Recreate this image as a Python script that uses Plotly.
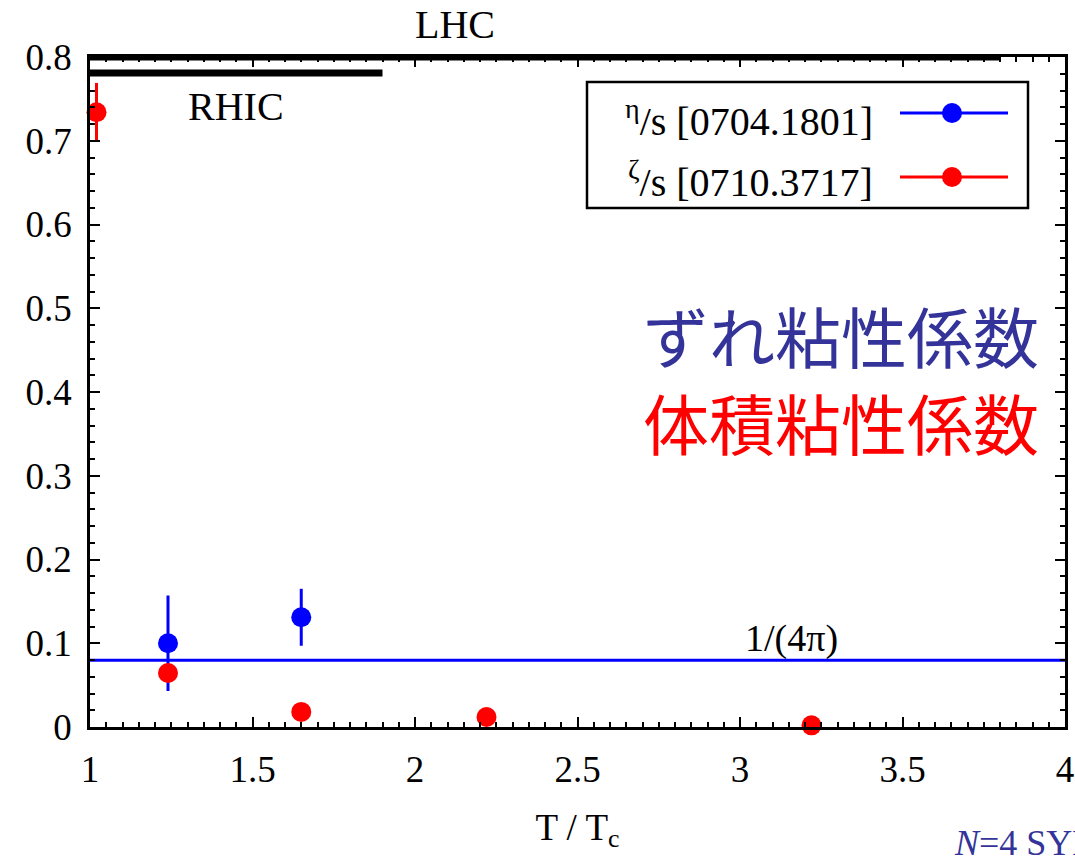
import plotly.graph_objects as go
import math

# --- data ---
eta_x = [1.24, 1.65]
eta_y = [0.100, 0.131]
eta_err = [0.057, 0.034]

zeta_x = [1.02, 1.24, 1.65, 2.22, 3.22]
zeta_y = [0.734, 0.0645, 0.018, 0.012, 0.002]
zeta_err = [0.035, 0.0, 0.0, 0.0, 0.0]

kss_value = 1 / (4 * math.pi)
lhc_range = [1.0, 3.80]
lhc_y = 0.8
rhic_range = [1.0, 1.90]
rhic_y = 0.781

x_ticks = [1, 1.5, 2, 2.5, 3, 3.5, 4]
x_ticklabels = ["1", "1.5", "2", "2.5", "3", "3.5", "4"]
y_ticks = [0, 0.1, 0.2, 0.3, 0.4, 0.5, 0.6, 0.7, 0.8]
y_ticklabels = ["0", "0.1", "0.2", "0.3", "0.4", "0.5", "0.6", "0.7", "0.8"]

BLUE = "#0000ff"
RED = "#ff0000"
NAVY = "#333399"
SERIF = "Liberation Serif, Times New Roman, serif"

fig = go.Figure()

# reference line 1/(4π)
fig.add_trace(go.Scatter(x=[1, 4], y=[kss_value, kss_value], mode="lines",
                         line=dict(color=BLUE, width=3), showlegend=False, hoverinfo="skip"))

# LHC / RHIC bars
fig.add_trace(go.Scatter(x=lhc_range, y=[lhc_y, lhc_y], mode="lines",
                         line=dict(color="black", width=7), showlegend=False, cliponaxis=False))
fig.add_trace(go.Scatter(x=rhic_range, y=[rhic_y, rhic_y], mode="lines",
                         line=dict(color="black", width=7), showlegend=False, cliponaxis=False))

# eta/s
fig.add_trace(go.Scatter(x=eta_x, y=eta_y, mode="markers",
                         marker=dict(color=BLUE, size=20),
                         error_y=dict(type="data", array=eta_err, color=BLUE, thickness=3, width=0),
                         showlegend=False, cliponaxis=False))
# zeta/s
fig.add_trace(go.Scatter(x=zeta_x, y=zeta_y, mode="markers",
                         marker=dict(color=RED, size=20),
                         error_y=dict(type="data", array=zeta_err, color=RED, thickness=3, width=0),
                         showlegend=False, cliponaxis=False))

axis_common = dict(showline=True, linecolor="black", linewidth=2.5, mirror="allticks",
                   ticks="inside", ticklen=10, tickwidth=2, tickcolor="black",
                   showgrid=False, zeroline=False, automargin=False,
                   tickfont=dict(family=SERIF, size=37, color="black"))

fig.update_xaxes(range=[1, 4], tickvals=x_ticks, ticktext=x_ticklabels,
                 minor=dict(dtick=0.05, ticks="inside", ticklen=5, tickwidth=2, tickcolor="black"),
                 ticklabelstandoff=8,
                 title=dict(text="T / T<sub>c</sub>", font=dict(family=SERIF, size=37, color="black"), standoff=25),
                 **axis_common)
fig.update_yaxes(range=[0, 0.8], tickvals=y_ticks, ticktext=y_ticklabels,
                 minor=dict(dtick=0.02, ticks="inside", ticklen=5, tickwidth=2, tickcolor="black"),
                 ticklabelstandoff=8,
                 **axis_common)

# pixel -> paper conversions for free-standing decorations
L, R, T, B = 90, 10, 57, 134
W, H = 1075, 861
PW, PH = W - L - R, H - T - B
def px(x):
    return (x - L) / PW
def py(y):
    return (H - B - y) / PH

annotations = [
    dict(x=px(455), y=py(25), xref="paper", yref="paper", text="LHC", showarrow=False,
         xanchor="center", yanchor="middle", font=dict(family=SERIF, size=40, color="black")),
    dict(x=px(236), y=py(106), xref="paper", yref="paper", text="RHIC", showarrow=False,
         xanchor="center", yanchor="middle", font=dict(family=SERIF, size=40, color="black")),
    dict(x=px(791), y=py(638), xref="paper", yref="paper", text="1/(4π)", showarrow=False,
         xanchor="center", yanchor="middle", font=dict(family=SERIF, size=38, color="black")),
    dict(x=px(841), y=py(334), xref="paper", yref="paper", text="ずれ粘性係数", showarrow=False,
         xanchor="center", yanchor="middle",
         font=dict(family="Noto Sans CJK JP", size=66, color=NAVY)),
    dict(x=px(841), y=py(421), xref="paper", yref="paper", text="体積粘性係数", showarrow=False,
         xanchor="center", yanchor="middle",
         font=dict(family="Noto Sans CJK JP", size=66, color=RED)),
    dict(x=px(875), y=py(118), xref="paper", yref="paper", xanchor="right", yanchor="middle",
         showarrow=False, text="<sup>η</sup>/s [0704.1801]",
         font=dict(family=SERIF, size=40, color="black")),
    dict(x=px(875), y=py(180), xref="paper", yref="paper", xanchor="right", yanchor="middle",
         showarrow=False, text="<sup>ζ</sup>/s [0710.3717]",
         font=dict(family=SERIF, size=40, color="black")),
    dict(x=px(952), y=py(843), xref="paper", yref="paper", xanchor="left", yanchor="middle",
         showarrow=False, text="<i>N</i>=4 SYM",
         font=dict(family=SERIF, size=36, color=NAVY)),
]

shapes = [
    dict(type="rect", xref="paper", yref="paper", x0=px(587), x1=px(1028), y0=py(82), y1=py(208),
         line=dict(color="black", width=2.5), fillcolor="white", layer="below"),
    dict(type="line", xref="paper", yref="paper", x0=px(900), x1=px(1008), y0=py(113), y1=py(113),
         line=dict(color=BLUE, width=3)),
    dict(type="circle", xref="paper", yref="paper", x0=px(942), x1=px(962), y0=py(103), y1=py(123),
         line=dict(color=BLUE, width=0), fillcolor=BLUE),
    dict(type="line", xref="paper", yref="paper", x0=px(900), x1=px(1008), y0=py(177), y1=py(177),
         line=dict(color=RED, width=3)),
    dict(type="circle", xref="paper", yref="paper", x0=px(942), x1=px(962), y0=py(167), y1=py(187),
         line=dict(color=RED, width=0), fillcolor=RED),
]

fig.update_layout(width=W, height=H, margin=dict(l=L, r=R, t=T, b=B),
                  paper_bgcolor="white", plot_bgcolor="white",
                  annotations=annotations, shapes=shapes, showlegend=False)

fig.write_html("out.html")
